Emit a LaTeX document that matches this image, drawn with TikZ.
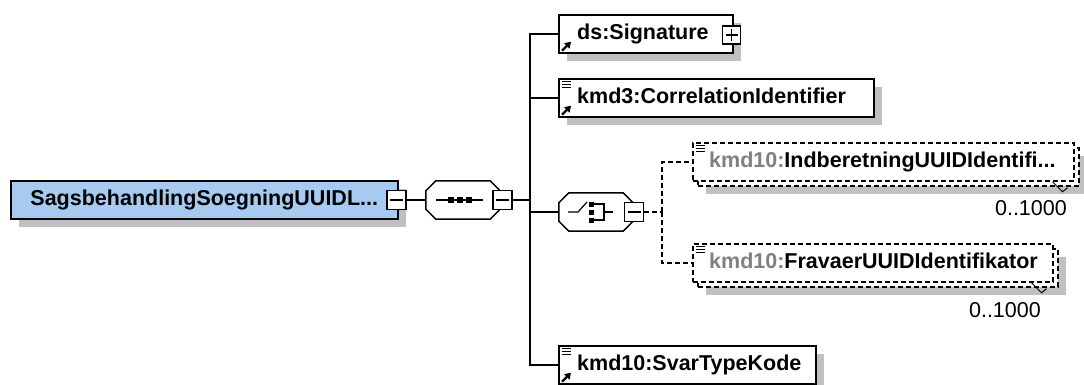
\documentclass[tikz,border=0pt]{standalone}
\usepackage{fontspec}
\setmainfont{Liberation Sans}
\usetikzlibrary{arrows.meta,calc,positioning,shadows}

\definecolor{rootblue}{RGB}{166,202,240}
\definecolor{shadowgray}{RGB}{192,192,192}
\definecolor{prefixgray}{RGB}{128,128,128}

\newcommand{\diagfont}{\fontsize{21.5}{25}\selectfont}

\tikzset{
  boxshadow/.style={drop shadow={shadow xshift=8pt,shadow yshift=-8pt,fill=shadowgray,opacity=1}},
  boxline/.style={draw,line width=1.5pt,fill=white,minimum height=38pt,inner sep=0pt,anchor=west},
  elem/.style={boxline,boxshadow},
  optline/.style={boxline,dash pattern=on 5pt off 3pt},
  rootelem/.style={elem,fill=rootblue,font=\diagfont\bfseries},
  ename/.style={font=\diagfont\bfseries,inner sep=0pt,anchor=west,text height=15.5pt,text depth=4.5pt},
  mult/.style={font=\diagfont,inner sep=0pt,anchor=east},
  compositor/.style={inner sep=0pt,minimum width=74pt,minimum height=38pt},
  togglebox/.style={draw,line width=1.2pt,fill=white,minimum size=19pt,inner sep=0pt},
  minusbox/.style={togglebox,path picture={
    \draw[line width=1.2pt] ([xshift=3pt]path picture bounding box.west) -- ([xshift=-3pt]path picture bounding box.east);}},
  plusbox/.style={togglebox,minimum size=18pt,path picture={
    \draw[line width=1.2pt] ([xshift=3pt]path picture bounding box.west) -- ([xshift=-3pt]path picture bounding box.east);
    \draw[line width=1.2pt] ([yshift=-3pt]path picture bounding box.north) -- ([yshift=3pt]path picture bounding box.south);}},
  conn/.style={line width=1.5pt},
  optconn/.style={conn,dash pattern=on 5pt off 3pt}
}

% octagon of a compositor node, with its shadow
\newcommand{\octagon}[1]{%
  \fill[shadowgray,shift={(8,8)}] ($(#1.north west)+(10,0)$) -- ($(#1.north east)+(-10,0)$) -- ($(#1.north east)+(0,10)$)
    -- ($(#1.south east)+(0,-10)$) -- ($(#1.south east)+(-10,0)$) -- ($(#1.south west)+(10,0)$)
    -- ($(#1.south west)+(0,-10)$) -- ($(#1.north west)+(0,10)$) -- cycle;
  \draw[line width=1.5pt,fill=white] ($(#1.north west)+(10,0)$) -- ($(#1.north east)+(-10,0)$) -- ($(#1.north east)+(0,10)$)
    -- ($(#1.south east)+(0,-10)$) -- ($(#1.south east)+(-10,0)$) -- ($(#1.south west)+(10,0)$)
    -- ($(#1.south west)+(0,-10)$) -- ($(#1.north west)+(0,10)$) -- cycle;}
% little marks inside the element boxes
\newcommand{\texticon}[1]{%
  \foreach \dy in {3,6,9}
    \draw[line width=1.2pt] ($(#1.north west)+(4,\dy)$) -- +(9,0);}
\newcommand{\reficon}[1]{%
  \draw[line width=2.2pt,-{Triangle[length=6pt,width=7.5pt]}] ($(#1.south west)+(4,-3)$) -- +(9,-9);}
\newcommand{\multtick}[1]{%
  \draw[line width=1pt] ($(#1.south east)+(-22,0)$) -- +(10,10) -- +(15,6);}

\begin{document}
\begin{tikzpicture}[x=1pt,y=-1pt]
  \useasboundingbox[fill=white] (0,0) rectangle (1084,385);

  % root element and its sequence
  \node[rootelem,minimum width=387pt] (root) at (10,200) {SagsbehandlingSoegningUUIDL...};
  \node[minusbox] (rootbox) at (396.5,200) {};

  \node[compositor] (seq) at (463,200) {};
  \octagon{seq}
  \node[minusbox] (seqbox) at (502.5,200) {};
  \coordinate (fork) at (530,200);

  \draw[line width=1.2pt] ($(seq.center)+(-27,0)$) -- ($(seq.center)+(20,0)$);
  \foreach \dx in {-12.5,-3.5,5.5}
    \fill ($(seq.center)+(\dx,0)$) +(-3,-3) rectangle +(3,3);

  % children of the sequence
  \node[elem,minimum width=174pt] (sig) at (558,34) {};
  \node[ename] (signame) at (577,34) {ds:Signature};
  \node[plusbox] (sigbox) at (731.5,35) {};
  \reficon{sig}

  \node[elem,minimum width=315pt] (corr) at (558,98) {};
  \node[ename] (corrname) at (577,98) {kmd3:CorrelationIdentifier};
  \texticon{corr}
  \reficon{corr}

  \node[compositor] (chc) at (596,212) {};
  \octagon{chc}
  \node[minusbox] (chcbox) at (634,212) {};
  \coordinate (chfork) at (662,212);

  \draw[line width=1.2pt] ($(chc.center)+(-28,0)$) -- ($(chc.center)+(-18,0)$) -- ($(chc.center)+(-9,-10)$);
  \foreach \dy in {-8,0,8}
    \fill ($(chc.center)+(-4.5,\dy)$) +(-2.5,-2.5) rectangle +(2.5,2.5);
  \draw[line width=1.2pt] ($(chc.center)+(-4.5,-8)$) -- ($(chc.center)+(8,-8)$) -- ($(chc.center)+(8,8)$) -- ($(chc.center)+(-4.5,8)$);
  \draw[line width=1.2pt] ($(chc.center)+(8,0)$) -- ($(chc.center)+(17,0)$);

  \node[optline,boxshadow,minimum width=381pt] (indbback) at (697,167) {};
  \node[optline,minimum width=381pt] (indb) at (692,162) {};
  \node[ename] (indbname) at (709,162) {\textcolor{prefixgray}{kmd10:}IndberetningUUIDIdentifi...};
  \node[mult] (indbmult) at (1067,208) {0..1000};
  \texticon{indb}
  \multtick{indb}

  \node[optline,boxshadow,minimum width=360pt] (fravback) at (697,268) {};
  \node[optline,minimum width=360pt] (frav) at (692,263) {};
  \node[ename] (fravname) at (709,263) {\textcolor{prefixgray}{kmd10:}FravaerUUIDIdentifikator};
  \node[mult] (fravmult) at (1041,310) {0..1000};
  \texticon{frav}
  \multtick{frav}

  \node[elem,minimum width=257pt] (svar) at (558,365) {};
  \node[ename] (svarname) at (577,365) {kmd10:SvarTypeKode};
  \texticon{svar}
  \reficon{svar}

  % connectors
  \draw[conn] (rootbox.east) -- (seq.west);
  \draw[conn] (seqbox.east) -- (fork);
  \draw[conn] (fork) |- (sig.west);
  \draw[conn] (fork) |- (corr.west);
  \draw[conn] (fork) |- (chc.west);
  \draw[conn] (fork) |- (svar.west);
  \draw[optconn] (chcbox.east) -- (chfork);
  \draw[optconn] (chfork) |- (indb.west);
  \draw[optconn] (chfork) |- (frav.west);
\end{tikzpicture}
\end{document}
